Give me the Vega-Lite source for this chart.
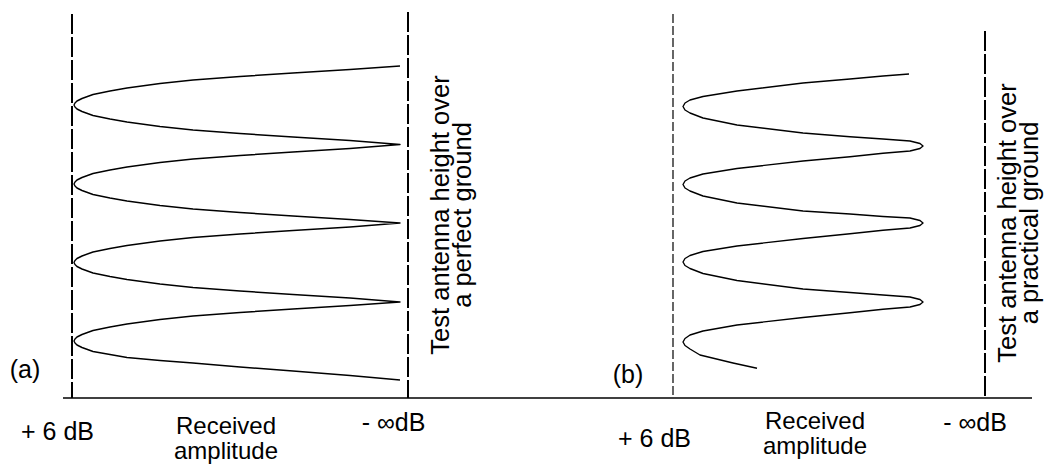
{
  "$schema": "https://vega.github.io/schema/vega-lite/v6.json",
  "width": 1047,
  "height": 464,
  "autosize": "none",
  "padding": 0,
  "background": "white",
  "config": {"view": {"stroke": null}},
  "layer": [
    {
      "data": {"values": [
        {"pos": 72, "top": 384, "bottom": 0},
        {"pos": 408, "top": 386, "bottom": 0},
        {"pos": 985, "top": 367, "bottom": 0}
      ]},
      "mark": {"type": "rule", "strokeWidth": 2, "strokeDash": [20, 3], "color": "black"},
      "encoding": {
        "x": {"field": "pos", "type": "quantitative", "scale": {"domain": [0, 1047], "nice": false, "zero": false}, "axis": null},
        "y": {"field": "top", "type": "quantitative", "scale": {"domain": [-66, 398], "nice": false, "zero": false}, "axis": null},
        "y2": {"field": "bottom"}
      }
    },
    {
      "data": {"values": [
        {"pos": 673, "top": 384, "bottom": 0}
      ]},
      "mark": {"type": "rule", "strokeWidth": 1.2, "strokeDash": [9, 3], "color": "black"},
      "encoding": {
        "x": {"field": "pos", "type": "quantitative", "scale": {"domain": [0, 1047], "nice": false, "zero": false}, "axis": null},
        "y": {"field": "top", "type": "quantitative", "scale": {"domain": [-66, 398], "nice": false, "zero": false}, "axis": null},
        "y2": {"field": "bottom"}
      }
    },
    {
      "data": {"values": [
        {"from": 63, "to": 1032, "level": 0}
      ]},
      "mark": {"type": "rule", "strokeWidth": 1.5, "color": "black"},
      "encoding": {
        "x": {"field": "from", "type": "quantitative", "scale": {"domain": [0, 1047], "nice": false, "zero": false}, "axis": null},
        "x2": {"field": "to"},
        "y": {"field": "level", "type": "quantitative", "scale": {"domain": [-66, 398], "nice": false, "zero": false}, "axis": null}
      }
    },
    {
      "data": {"values": [
        {"s":"a","i":1,"amp":400,"h":332},{"s":"a","i":2,"amp":350,"h":328.5},{"s":"a","i":3,"amp":293,"h":325},{"s":"a","i":4,"amp":240,"h":321.5},{"s":"a","i":5,"amp":193,"h":318},{"s":"a","i":6,"amp":160,"h":314.5},{"s":"a","i":7,"amp":127,"h":310},{"s":"a","i":8,"amp":110,"h":307},{"s":"a","i":9,"amp":93,"h":303.5},{"s":"a","i":10,"amp":82,"h":299.5},{"s":"a","i":11,"amp":77,"h":297},{"s":"a","i":12,"amp":75,"h":295},{"s":"a","i":13,"amp":74,"h":293},{"s":"a","i":14,"amp":75,"h":291},{"s":"a","i":15,"amp":77,"h":289},{"s":"a","i":16,"amp":82,"h":286.5},{"s":"a","i":17,"amp":93,"h":282.5},{"s":"a","i":18,"amp":110,"h":279},{"s":"a","i":19,"amp":127,"h":276},{"s":"a","i":20,"amp":160,"h":271.5},{"s":"a","i":21,"amp":193,"h":268},{"s":"a","i":22,"amp":240,"h":264.5},{"s":"a","i":23,"amp":293,"h":261},{"s":"a","i":24,"amp":350,"h":257.5},{"s":"a","i":25,"amp":400,"h":253.5},
        {"s":"a","i":26,"amp":350,"h":249.5},{"s":"a","i":27,"amp":293,"h":246},{"s":"a","i":28,"amp":240,"h":242.5},{"s":"a","i":29,"amp":193,"h":239},{"s":"a","i":30,"amp":160,"h":235.5},{"s":"a","i":31,"amp":127,"h":231},{"s":"a","i":32,"amp":110,"h":228},{"s":"a","i":33,"amp":93,"h":224.5},{"s":"a","i":34,"amp":82,"h":220.5},{"s":"a","i":35,"amp":77,"h":218},{"s":"a","i":36,"amp":75,"h":216},{"s":"a","i":37,"amp":74,"h":214},{"s":"a","i":38,"amp":75,"h":212},{"s":"a","i":39,"amp":77,"h":210},{"s":"a","i":40,"amp":82,"h":207.5},{"s":"a","i":41,"amp":93,"h":203.5},{"s":"a","i":42,"amp":110,"h":200},{"s":"a","i":43,"amp":127,"h":197},{"s":"a","i":44,"amp":160,"h":192.5},{"s":"a","i":45,"amp":193,"h":189},{"s":"a","i":46,"amp":240,"h":185.5},{"s":"a","i":47,"amp":293,"h":182},{"s":"a","i":48,"amp":350,"h":178.5},{"s":"a","i":49,"amp":400,"h":175},
        {"s":"a","i":50,"amp":350,"h":171},{"s":"a","i":51,"amp":293,"h":167.5},{"s":"a","i":52,"amp":240,"h":164},{"s":"a","i":53,"amp":193,"h":160.5},{"s":"a","i":54,"amp":160,"h":157},{"s":"a","i":55,"amp":127,"h":152.5},{"s":"a","i":56,"amp":110,"h":149.5},{"s":"a","i":57,"amp":93,"h":146},{"s":"a","i":58,"amp":82,"h":142},{"s":"a","i":59,"amp":77,"h":139.5},{"s":"a","i":60,"amp":75,"h":137.5},{"s":"a","i":61,"amp":74,"h":135.5},{"s":"a","i":62,"amp":75,"h":133.5},{"s":"a","i":63,"amp":77,"h":131.5},{"s":"a","i":64,"amp":82,"h":129},{"s":"a","i":65,"amp":93,"h":125},{"s":"a","i":66,"amp":110,"h":121.5},{"s":"a","i":67,"amp":127,"h":118.5},{"s":"a","i":68,"amp":160,"h":114},{"s":"a","i":69,"amp":193,"h":110.5},{"s":"a","i":70,"amp":240,"h":107},{"s":"a","i":71,"amp":293,"h":103.5},{"s":"a","i":72,"amp":350,"h":100},{"s":"a","i":73,"amp":400,"h":96},
        {"s":"a","i":74,"amp":350,"h":92.5},{"s":"a","i":75,"amp":293,"h":89},{"s":"a","i":76,"amp":240,"h":85.5},{"s":"a","i":77,"amp":193,"h":82},{"s":"a","i":78,"amp":160,"h":78.5},{"s":"a","i":79,"amp":127,"h":74},{"s":"a","i":80,"amp":110,"h":71},{"s":"a","i":81,"amp":93,"h":67.5},{"s":"a","i":82,"amp":82,"h":63.5},{"s":"a","i":83,"amp":77,"h":61},{"s":"a","i":84,"amp":75,"h":59},{"s":"a","i":85,"amp":74,"h":57},{"s":"a","i":86,"amp":75,"h":55},{"s":"a","i":87,"amp":77,"h":53},{"s":"a","i":88,"amp":82,"h":50.5},{"s":"a","i":89,"amp":93,"h":46.5},{"s":"a","i":90,"amp":110,"h":43.5},{"s":"a","i":91,"amp":127,"h":40.5},{"s":"a","i":92,"amp":160,"h":37.5},{"s":"a","i":93,"amp":193,"h":35},{"s":"a","i":94,"amp":240,"h":31},{"s":"a","i":95,"amp":293,"h":27},{"s":"a","i":96,"amp":350,"h":22.5},{"s":"a","i":97,"amp":400,"h":18},
        {"s":"b","i":1,"amp":909,"h":324},{"s":"b","i":2,"amp":883,"h":322},{"s":"b","i":3,"amp":850,"h":319},{"s":"b","i":4,"amp":803,"h":315},{"s":"b","i":5,"amp":737,"h":307},{"s":"b","i":6,"amp":703,"h":301.5},{"s":"b","i":7,"amp":690,"h":298},{"s":"b","i":8,"amp":685,"h":295},{"s":"b","i":9,"amp":683,"h":291.5},
        {"s":"b","i":10,"amp":685,"h":288},{"s":"b","i":11,"amp":690,"h":285},{"s":"b","i":12,"amp":703,"h":280},{"s":"b","i":13,"amp":737,"h":273},{"s":"b","i":14,"amp":803,"h":265},{"s":"b","i":15,"amp":850,"h":261.3},{"s":"b","i":16,"amp":883,"h":259},{"s":"b","i":17,"amp":910,"h":257},{"s":"b","i":18,"amp":920,"h":254.5},{"s":"b","i":19,"amp":923,"h":252},{"s":"b","i":20,"amp":920,"h":249.5},{"s":"b","i":21,"amp":910,"h":247},{"s":"b","i":22,"amp":883,"h":244.7},{"s":"b","i":23,"amp":850,"h":241.3},{"s":"b","i":24,"amp":803,"h":237},{"s":"b","i":25,"amp":737,"h":229.5},{"s":"b","i":26,"amp":703,"h":224},{"s":"b","i":27,"amp":690,"h":220},{"s":"b","i":28,"amp":685,"h":217},{"s":"b","i":29,"amp":683,"h":213.5},
        {"s":"b","i":30,"amp":685,"h":210},{"s":"b","i":31,"amp":690,"h":207},{"s":"b","i":32,"amp":703,"h":202},{"s":"b","i":33,"amp":737,"h":195},{"s":"b","i":34,"amp":803,"h":187},{"s":"b","i":35,"amp":850,"h":184},{"s":"b","i":36,"amp":883,"h":181.5},{"s":"b","i":37,"amp":910,"h":180},{"s":"b","i":38,"amp":920,"h":177.5},{"s":"b","i":39,"amp":923,"h":175},{"s":"b","i":40,"amp":920,"h":172.5},{"s":"b","i":41,"amp":910,"h":170},{"s":"b","i":42,"amp":883,"h":167.7},{"s":"b","i":43,"amp":850,"h":164.3},{"s":"b","i":44,"amp":803,"h":159.5},{"s":"b","i":45,"amp":737,"h":152},{"s":"b","i":46,"amp":703,"h":146.5},{"s":"b","i":47,"amp":690,"h":142.5},{"s":"b","i":48,"amp":685,"h":139.5},{"s":"b","i":49,"amp":683,"h":136},
        {"s":"b","i":50,"amp":685,"h":132.5},{"s":"b","i":51,"amp":690,"h":129.5},{"s":"b","i":52,"amp":703,"h":124.5},{"s":"b","i":53,"amp":737,"h":117.5},{"s":"b","i":54,"amp":803,"h":109},{"s":"b","i":55,"amp":850,"h":105.5},{"s":"b","i":56,"amp":883,"h":103},{"s":"b","i":57,"amp":910,"h":101},{"s":"b","i":58,"amp":920,"h":98.5},{"s":"b","i":59,"amp":923,"h":96},{"s":"b","i":60,"amp":920,"h":93.5},{"s":"b","i":61,"amp":910,"h":91},{"s":"b","i":62,"amp":883,"h":88.7},{"s":"b","i":63,"amp":850,"h":85.3},{"s":"b","i":64,"amp":803,"h":80.5},{"s":"b","i":65,"amp":737,"h":73},{"s":"b","i":66,"amp":703,"h":67},{"s":"b","i":67,"amp":690,"h":63},{"s":"b","i":68,"amp":685,"h":59.5},{"s":"b","i":69,"amp":683,"h":56},
        {"s":"b","i":70,"amp":685,"h":52.5},{"s":"b","i":71,"amp":690,"h":49},{"s":"b","i":72,"amp":700,"h":43},{"s":"b","i":73,"amp":733,"h":35},{"s":"b","i":74,"amp":757,"h":29.7}
      ]},
      "mark": {"type": "line", "strokeWidth": 1.4, "color": "black", "strokeJoin": "round"},
      "encoding": {
        "x": {"field": "amp", "type": "quantitative", "scale": {"domain": [0, 1047], "nice": false, "zero": false}, "axis": null},
        "y": {"field": "h", "type": "quantitative", "scale": {"domain": [-66, 398], "nice": false, "zero": false}, "axis": null},
        "detail": {"field": "s", "type": "nominal"},
        "order": {"field": "i", "type": "quantitative"}
      }
    },
    {
      "data": {"values": [
        {"label": "(a)", "px": 25, "py": 20},
        {"label": "(b)", "px": 628, "py": 15},
        {"label": "+ 6 dB", "px": 57.5, "py": -41.5},
        {"label": "+ 6 dB", "px": 654.5, "py": -48.5},
        {"label": "- ∞dB", "px": 393.5, "py": -32.5},
        {"label": "- ∞dB", "px": 975, "py": -33}
      ]},
      "mark": {"type": "text", "font": "Liberation Sans", "fontSize": 25, "align": "center", "baseline": "alphabetic", "color": "black"},
      "encoding": {
        "x": {"field": "px", "type": "quantitative", "scale": {"domain": [0, 1047], "nice": false, "zero": false}, "axis": null},
        "y": {"field": "py", "type": "quantitative", "scale": {"domain": [-66, 398], "nice": false, "zero": false}, "axis": null},
        "text": {"field": "label", "type": "nominal"}
      }
    },
    {
      "data": {"values": [
        {"label": "Received\namplitude", "px": 226, "py": -36},
        {"label": "Received\namplitude", "px": 815, "py": -31}
      ]},
      "mark": {"type": "text", "font": "Liberation Sans", "fontSize": 24, "align": "center", "baseline": "alphabetic", "lineBreak": "\n", "lineHeight": 25, "color": "black"},
      "encoding": {
        "x": {"field": "px", "type": "quantitative", "scale": {"domain": [0, 1047], "nice": false, "zero": false}, "axis": null},
        "y": {"field": "py", "type": "quantitative", "scale": {"domain": [-66, 398], "nice": false, "zero": false}, "axis": null},
        "text": {"field": "label", "type": "nominal"}
      }
    },
    {
      "data": {"values": [
        {"label": "Test antenna height over\na perfect ground", "px": 449, "py": 183},
        {"label": "Test antenna height over\na practical ground", "px": 1015.5, "py": 175}
      ]},
      "mark": {"type": "text", "font": "Liberation Sans", "fontSize": 25.5, "angle": 270, "align": "center", "baseline": "alphabetic", "lineBreak": "\n", "lineHeight": 22, "color": "black"},
      "encoding": {
        "x": {"field": "px", "type": "quantitative", "scale": {"domain": [0, 1047], "nice": false, "zero": false}, "axis": null},
        "y": {"field": "py", "type": "quantitative", "scale": {"domain": [-66, 398], "nice": false, "zero": false}, "axis": null},
        "text": {"field": "label", "type": "nominal"}
      }
    }
  ]
}
